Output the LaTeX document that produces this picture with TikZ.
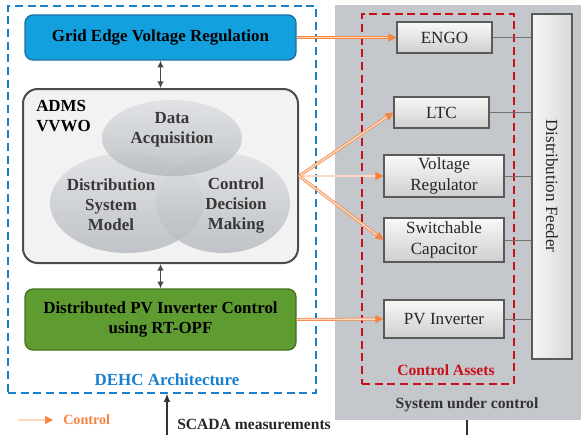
\documentclass[tikz,border=0pt]{standalone}
\usepackage{fontspec}
\setmainfont{Liberation Serif}
\usetikzlibrary{arrows.meta,shapes.geometric,fit}
\definecolor{panelC}{HTML}{C4C7CB}
\definecolor{dehcC}{HTML}{1A80CC}
\definecolor{assetC}{HTML}{C8101A}
\definecolor{gevC}{HTML}{12A0DF}
\definecolor{gevB}{HTML}{1C6FA0}
\definecolor{pvcC}{HTML}{5E9B30}
\definecolor{pvcB}{HTML}{41731F}
\definecolor{ctrlC}{HTML}{F5843F}
\definecolor{ctrlL}{HTML}{FCD9C0}
\definecolor{boxB}{HTML}{5A5A5A}
\definecolor{ellT}{HTML}{DDDFE2}
\definecolor{ellB}{HTML}{B3B7BD}
\tikzset{
  fs/.style={font=\fontsize{12.8}{15.5}\selectfont},
  fsb/.style={font=\bfseries\fontsize{12.7}{15}\selectfont},
  asset/.style={draw=boxB, line width=0.8pt, top color=white!95!gray, bottom color=gray!38, inner sep=0pt, fs, align=center, text=black!85},
  ctrl/.style={draw=ctrlC, double=ctrlL, double distance=1.1pt, line width=0.55pt, -{Triangle[length=6pt,width=6pt]}},
  feedline/.style={draw=black!55, line width=0.6pt},
  ell/.style={ellipse, inner sep=0pt, top color=ellT, bottom color=ellB, fill opacity=0.8, draw=none},
  elltext/.style={fsb, text=black!78, align=center},
  biarrow/.style={{Latex[length=5pt,width=5pt]}-{Latex[length=5pt,width=5pt]}, line width=1.1pt, black!72},
}
\begin{document}
\begin{tikzpicture}[x=0.75pt,y=-0.75pt]
\useasboundingbox (0,0) rectangle (581,435);
% system under control panel
\node[fill=panelC, fit={(335,5)(581,420)}, inner sep=0pt] (sys) {};
\node[font=\bfseries\fontsize{11.7}{14}\selectfont, text=black!80] (systxt) at (467,405) {System under control};
% DEHC dashed box
\node[draw=dehcC, dash pattern=on 6pt off 3.5pt, line width=1.2pt, fit={(8,6)(316,393)}, inner sep=0pt] (dehc) {};
\node[fsb, text=dehcC] (dehctxt) at (167,380) {DEHC Architecture};
% control assets dashed box
\node[draw=assetC, dash pattern=on 6pt off 3.5pt, line width=1.2pt, fit={(362,14)(514,384)}, inner sep=0pt] (ca) {};
\node[font=\bfseries\fontsize{11.7}{14}\selectfont, text=assetC] (catxt) at (446,370) {Control Assets};
% feeder
\node[draw=boxB, line width=0.8pt, left color=white!93!gray, right color=gray!30, fit={(532,14)(572,359)}, inner sep=0pt] (feeder) {};
\node[fs, rotate=-90, text=black!85] (feedtxt) at (552,186) {Distribution Feeder};
% assets
\node[asset, minimum width=71.25pt, minimum height=23.25pt] (engo) at (444.5,37.5) {ENGO};
\node[asset, minimum width=71.25pt, minimum height=23.25pt] (ltc) at (441.5,112.5) {LTC};
\node[asset, minimum width=90pt, minimum height=31.5pt] (vr) at (444,176) {Voltage\\Regulator};
\node[asset, minimum width=90pt, minimum height=33pt] (sc) at (444,240) {Switchable\\Capacitor};
\node[asset, minimum width=90pt, minimum height=28.5pt] (pv) at (444,319) {PV Inverter};
\foreach \b in {engo,ltc,vr,sc,pv}{\draw[feedline] (\b.east) -- (\b.east -| feeder.west);}
% left blocks
\node[fill=gevC, draw=gevB, line width=1pt, rounded corners=6pt, minimum width=203.25pt, minimum height=33.75pt, fsb] (gev) at (160.5,37.5) {Grid Edge Voltage Regulation};
\node[fill=black!5, draw=black!70, line width=1.5pt, rounded corners=11pt, minimum width=206.25pt, minimum height=130.5pt] (adms) at (160.5,176) {};
\node[fill=pvcC, draw=pvcB, line width=1pt, rounded corners=6pt, minimum width=203.25pt, minimum height=45.75pt, fsb, align=center] (pvc) at (160.5,319.5) {Distributed PV Inverter Control\\using RT-OPF};
% ellipses
\node[ell, minimum width=115.5pt, minimum height=75pt] (dsm) at (127,203) {};
\node[ell, minimum width=100.5pt, minimum height=75pt] (cdm) at (223,203) {};
\node[ell, minimum width=105pt, minimum height=57pt] (da) at (172,138) {};
\node[elltext] (datxt) at (172,130) {Data\\Acquisition};
\node[elltext] (dsmtxt) at (111,205) {Distribution\\System\\Model};
\node[elltext] (cdmtxt) at (236,205) {Control\\Decision\\Making};
\node[fsb, align=left, anchor=north west, inner sep=0pt] (admstxt) at (36,100) {ADMS\\VVWO};
% vertical links
\draw[biarrow] (gev.south) -- (adms.north);
\draw[biarrow] (adms.south) -- (pvc.north);
% control arrows
\draw[ctrl] (gev.east) -- (engo.west);
\draw[ctrl] (adms.east) -- (ltc.west);
\draw[ctrl] (adms.east) -- (vr.west);
\draw[ctrl] (adms.east) -- (sc.west);
\draw[ctrl] (pvc.east) -- (pv.west);
% legend
\coordinate (lg0) at (18,420);
\coordinate (lg1) at (53,420);
\draw[ctrl] (lg0) -- (lg1);
\node[font=\bfseries\fontsize{10.6}{12}\selectfont, text=ctrlC, anchor=west, inner sep=0pt] (lgtxt) at (63,420) {Control};
% SCADA
\coordinate (sc0) at (167,435);
\draw[-{Latex[length=6pt,width=5pt]}, line width=0.9pt, black!80] (sc0) -- (sc0 |- dehc.south);
\node[font=\bfseries\fontsize{11.7}{14}\selectfont, text=black!85, anchor=west, inner sep=0pt] (scadatxt) at (177,424) {SCADA measurements};
\coordinate (sy0) at (467,435);
\draw[line width=0.9pt, black!80] (sys.south -| sy0) -- (sy0);
\end{tikzpicture}
\end{document}
